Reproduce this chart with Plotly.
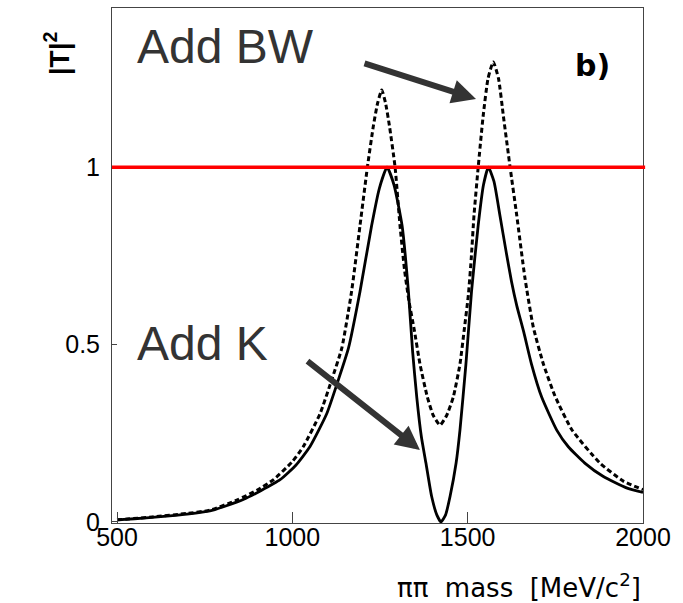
import plotly.graph_objects as go

# pi-pi mass grid points [MeV/c^2] and |T|^2 for the K-matrix (solid) curve
mass_k = [500, 550, 600, 650, 700, 765, 810, 860, 910, 965, 1010, 1050, 1098, 1131,
          1160, 1193, 1226, 1248, 1270, 1290, 1313, 1331, 1343, 1355, 1368, 1381,
          1397, 1412, 1424, 1437, 1450, 1467, 1478, 1495, 1511, 1530, 1545, 1559,
          1575, 1592, 1610, 1625, 1640, 1660, 1682, 1711, 1754, 1787, 1834, 1887,
          1953, 2000]
t2_k = [0.006, 0.009, 0.013, 0.017, 0.022, 0.031, 0.045, 0.063, 0.088, 0.119, 0.16,
        0.212, 0.305, 0.40, 0.49, 0.65, 0.835, 0.94, 1.0, 0.95, 0.835, 0.65, 0.48,
        0.35, 0.24, 0.166, 0.073, 0.02, 0.0, 0.02, 0.073, 0.166, 0.259, 0.445, 0.65,
        0.836, 0.95, 1.0, 0.96, 0.864, 0.76, 0.678, 0.61, 0.535, 0.445, 0.352, 0.259,
        0.212, 0.166, 0.128, 0.096, 0.083]

# |T|^2 for the sum of Breit-Wigners (dashed)
mass_bw = [500, 600, 700, 765, 845, 900, 946, 1000, 1031, 1079, 1112, 1141, 1169,
           1193, 1214, 1231, 1243, 1255, 1266, 1277, 1293, 1307, 1320, 1333, 1348,
           1364, 1385, 1402, 1421, 1440, 1459, 1478, 1490, 1502, 1510, 1518, 1530,
           1544, 1558, 1573, 1588, 1602, 1621, 1640, 1663, 1687, 1716, 1749, 1797,
           1877, 1944, 2000]
t2_bw = [0.006, 0.014, 0.024, 0.033, 0.063, 0.09, 0.119, 0.17, 0.212, 0.305, 0.40,
         0.49, 0.65, 0.836, 1.0, 1.116, 1.18, 1.218, 1.18, 1.116, 1.0, 0.836, 0.71,
         0.62, 0.54, 0.445, 0.352, 0.30, 0.273, 0.30, 0.352, 0.445, 0.54, 0.64, 0.74,
         0.864, 1.0, 1.143, 1.25, 1.297, 1.25, 1.143, 1.0, 0.864, 0.69, 0.55, 0.445,
         0.355, 0.26, 0.166, 0.115, 0.091]

unitarity_level = 1.0
x_ticks = [500, 1000, 1500, 2000]
x_tick_text = ["500", "1000", "1500", "2000"]
y_ticks = [0, 0.5, 1]
y_tick_text = ["0", "0.5", "1"]

fig = go.Figure()

fig.add_trace(go.Scatter(
    x=mass_bw, y=t2_bw, mode="lines",
    line=dict(color="black", width=3, dash="5px,3px", shape="spline", smoothing=0.5),
    showlegend=False, hoverinfo="skip",
))
fig.add_trace(go.Scatter(
    x=mass_k, y=t2_k, mode="lines",
    line=dict(color="black", width=2.8, shape="spline", smoothing=0.5),
    showlegend=False, hoverinfo="skip",
))

# unitarity bound
fig.add_shape(type="line", xref="paper", yref="y", x0=0, x1=1.004,
              y0=unitarity_level, y1=unitarity_level,
              line=dict(color="#ff0000", width=3.5), layer="above")

tick_font = dict(family="Liberation Sans, Arial, sans-serif", size=25, color="black")

fig.update_xaxes(
    range=[485.7, 2000], tickvals=x_ticks, ticktext=x_tick_text,
    showline=True, linecolor="#444", linewidth=1, mirror=True,
    ticks="inside", ticklen=11, tickcolor="#444", tickwidth=1,
    showgrid=False, zeroline=False, tickfont=tick_font, ticklabelstandoff=-8,
)
fig.update_yaxes(
    range=[-0.003, 1.449], tickvals=y_ticks, ticktext=y_tick_text,
    showline=True, linecolor="#444", linewidth=1, mirror=True,
    ticks="inside", ticklen=5, tickcolor="#444", tickwidth=1,
    showgrid=False, zeroline=False, tickfont=tick_font, ticklabelstandoff=6,
)

annotations = [
    # y-axis title
    dict(text="|T|<sup>2</sup>", x=-0.141, y=0.959, xref="paper", yref="paper",
         textangle=-90, showarrow=False,
         font=dict(family="Liberation Sans, Arial, sans-serif", size=28, color="black",
                   weight="bold")),
    # x-axis title
    dict(text="ππ  mass  [MeV/c<sup>2</sup>]", x=1.0, y=-0.1223, xref="paper", yref="paper",
         xanchor="right", yanchor="middle", showarrow=False,
         font=dict(family="DejaVu Sans, sans-serif", size=26, color="black")),
    # panel label
    dict(text="b)", x=0.9416, y=0.926, xref="paper", yref="paper", showarrow=False,
         font=dict(family="DejaVu Sans, sans-serif", size=30, color="black", weight="bold")),
    dict(text="Add BW", x=0.0433, y=0.926, xref="paper", yref="paper",
         xanchor="left", yanchor="middle", showarrow=False,
         font=dict(family="Liberation Sans, Arial, sans-serif", size=48, color="#333")),
    dict(text="Add K", x=0.0433, y=0.3495, xref="paper", yref="paper",
         xanchor="left", yanchor="middle", showarrow=False,
         font=dict(family="Liberation Sans, Arial, sans-serif", size=48, color="#333")),
    # arrows pointing to the two curves
    dict(text="", x=0.6855, y=0.8233, xref="paper", yref="paper",
         ax=-113, ay=-36, showarrow=True, arrowhead=2, arrowsize=0.8,
         arrowwidth=6, arrowcolor="#333"),
    dict(text="", x=0.580, y=0.1417, xref="paper", yref="paper",
         ax=-114, ay=-90, showarrow=True, arrowhead=2, arrowsize=0.8,
         arrowwidth=6, arrowcolor="#333"),
]

fig.update_layout(
    width=683, height=603,
    margin=dict(l=112, r=40, t=8, b=80),
    paper_bgcolor="white", plot_bgcolor="white",
    annotations=annotations,
    showlegend=False,
)

fig.write_html("out.html")
